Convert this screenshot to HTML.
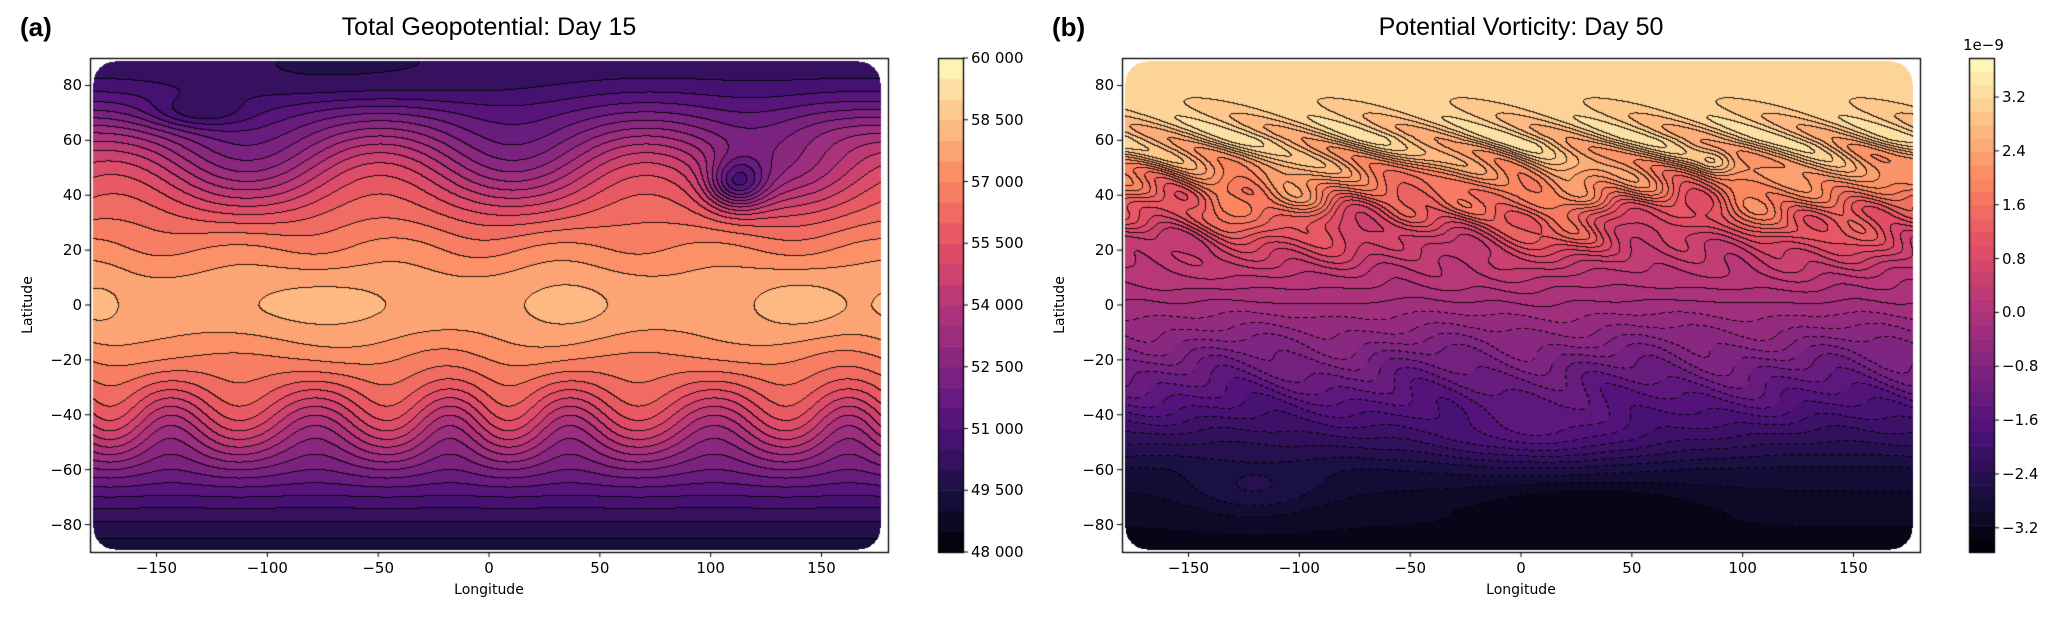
<!DOCTYPE html>
<html><head><meta charset="utf-8">
<style>
body{margin:0;background:#fff;width:2067px;height:626px;position:relative;overflow:hidden;font-family:"DejaVu Sans","Liberation Sans",sans-serif;color:#000}
.t{position:absolute;white-space:nowrap}
.tick{font-size:15px}
#cvMain{position:absolute;left:0;top:0}
</style></head><body>
<canvas id="cvMain" width="2067" height="626"></canvas>
<div id="labelLayer"></div>
<script>
var lonTickValues=[-150,-100,-50,0,50,100,150];
var latTickValues=[-80,-60,-40,-20,0,20,40,60,80];
var geoCbTicks=[48000,49500,51000,52500,54000,55500,57000,58500,60000];
var geoCbLabels=["48 000","49 500","51 000","52 500","54 000","55 500","57 000","58 500","60 000"];
var pvCbTicks=[-3.2,-2.4,-1.6,-0.8,0.0,0.8,1.6,2.4,3.2];
var pvCbLabels=["−3.2","−2.4","−1.6","−0.8","0.0","0.8","1.6","2.4","3.2"];
var geoRange=[48000,60000], geoStep=500;
var pvRange=[-3.56,3.78], pvStep=0.2;
var pvProfileLat=[-90,-75,-60,-45,-30,-15,0,15,30,45,60,75,90];
var pvProfileVal=[-3.25,-3.1,-2.8,-2.1,-1.4,-0.8,-0.2,0.4,1.1,2.0,2.9,3.1,3.2];
var geoBlobLon=[-175,-75,35,140];
var geoBlobAmp=[400,500,500,550];
(function(){
var axA={x0:90,x1:888,y0:58,y1:552};
var axB={x0:1122,x1:1920,y0:58,y1:552};
var cbA={x0:938,x1:963,y0:58,y1:552};
var cbB={x0:1969,x1:1994,y0:58,y1:552};
var mag=[[0,0,4],[28,16,68],[79,18,123],[129,37,129],[181,54,122],[229,80,100],[251,135,97],[254,194,135],[252,253,191]];
function cmap(t){t=Math.max(0,Math.min(1,t));var s=t*8,i=Math.min(7,Math.floor(s)),f=s-i;var a=mag[i],b=mag[i+1];return [a[0]+(b[0]-a[0])*f,a[1]+(b[1]-a[1])*f,a[2]+(b[2]-a[2])*f];}
var DG=Math.PI/180;
function sq(v){return v*v;}
function g2(x,y,cx,cy,sx,sy){var dx=x-cx;if(dx>180)dx-=360;if(dx<-180)dx+=360;return Math.exp(-sq(dx/sx)-sq((y-cy)/sy));}
function geo(lon,lat){
 var d=10*Math.sin(3*lon*DG+1)*Math.exp(-sq((lat-50)/20))
  +7*Math.sin(6*lon*DG+0.5+0.4*Math.sin(2*lon*DG))*Math.exp(-sq((lat+42)/16))
  +3*Math.sin(4*lon*DG)*Math.exp(-sq((lat+15)/10))
  +3*Math.sin(5*lon*DG+2)*Math.exp(-sq((lat-18)/10));
 var p=lat+d;var c=Math.cos(Math.min(90,Math.abs(p))*DG);
 var pole=p>0?50100:49300;
 var v=pole+(57700-pole)*Math.pow(Math.max(c,0),1.5);
 var eq=Math.exp(-sq(lat/13));
 for(var i=0;i<geoBlobLon.length;i++){var w=(i==1?40:(i==0?14:26));v+=geoBlobAmp[i]*eq*g2(lon,0,geoBlobLon[i],0,w,1);}
 v-=3200*g2(lon,lat,112,44,13,9);
 v-=1300*g2(lon,lat,-132,70,22,6);
 v-=500*g2(lon,lat,-60,80,70,8);
 v+=900*g2(lon,lat,150,62,30,12);
 return v;}
function prof(lat){for(var i=0;i<pvProfileLat.length-1;i++){if(lat<=pvProfileLat[i+1]){var f=(lat-pvProfileLat[i])/(pvProfileLat[i+1]-pvProfileLat[i]);return pvProfileVal[i]+f*(pvProfileVal[i+1]-pvProfileVal[i]);}}return pvProfileVal[pvProfileVal.length-1];}
function pv(lon,lat){
 var nE=Math.exp(-sq((lat-32)/18));
 var d=(8*Math.sin(3*lon*DG+0.8*Math.sin(lat*0.25)+1)+6*Math.sin(7*lon*DG+2*Math.sin(lat*0.12+lon*DG*2))+4*Math.sin(11*lon*DG+lat*0.35))*nE
  +(4*Math.sin(4*lon*DG+1+0.5*Math.sin(lat*0.2))+3*Math.sin(9*lon*DG+lat*0.25))*Math.exp(-sq((lat+25)/18));
 var p=Math.max(-90,Math.min(90,lat+d));
 var v=prof(p);
 v+=0.5*Math.sin(6*lon*DG+lat*0.35)*Math.exp(-sq((lat-58)/12));
 v+=0.6*g2(lon,lat,10,-48,55,12);
 v+=0.4*g2(lon,lat,-120,-68,30,10);
 v-=0.3*g2(lon,lat,30,-72,50,8);
 v+=0.5*g2(lon,lat,88,52,8,5);
 return v;}
var cv=document.getElementById('cvMain'),ctx=cv.getContext('2d');
function inRR(px,py,ax){var r=22,x0=ax.x0+3,x1=ax.x1-8,y0=ax.y0+3,y1=ax.y1-3;
 if(px<x0||px>x1||py<y0||py>y1)return false;
 var cx=Math.max(x0+r,Math.min(x1-r,px)),cy=Math.max(y0+r,Math.min(y1-r,py));
 return sq(px-cx)+sq(py-cy)<=r*r;}
function field(ax,fn,range,step,dashNeg){
 var w=ax.x1-ax.x0,h=ax.y1-ax.y0;var img=ctx.createImageData(w,h);
 var band=new Int16Array(w*h),i,j;
 for(j=0;j<h;j++)for(i=0;i<w;i++){var lon=-180+360*(i+0.5)/w,lat=90-180*(j+0.5)/h;
  band[j*w+i]=Math.floor((fn(lon,lat)-range[0])/step);}
 var zeroBand=Math.floor((0-range[0])/step);
 for(j=0;j<h;j++)for(i=0;i<w;i++){var k=j*w+i,o=k*4;
  if(!inRR(ax.x0+i,ax.y0+j,ax)){img.data[o]=255;img.data[o+1]=255;img.data[o+2]=255;img.data[o+3]=255;continue;}
  var b=band[k];var edge=(i<w-1&&band[k+1]!=b)||(j<h-1&&band[k+w]!=b);
  if(edge&&dashNeg&&b<zeroBand&&((i+j)%8)>4)edge=false;
  var c=cmap(((b+0.5)*step)/(range[1]-range[0]));
  if(edge){c=[c[0]*0.15,c[1]*0.15,c[2]*0.15];}
  img.data[o]=c[0];img.data[o+1]=c[1];img.data[o+2]=c[2];img.data[o+3]=255;}
 ctx.putImageData(img,ax.x0,ax.y0);
 ctx.strokeStyle='#000';ctx.lineWidth=1.3;ctx.strokeRect(ax.x0+0.5,ax.y0+0.5,w,h);}
function cbar(cb,range,step){var n=Math.round((range[1]-range[0])/step),h=cb.y1-cb.y0;
 for(var k=0;k<n;k++){var c=cmap((k+0.5)/n);ctx.fillStyle='rgb('+(c[0]|0)+','+(c[1]|0)+','+(c[2]|0)+')';
  var ya=cb.y1-h*k/n,yb=cb.y1-h*(k+1)/n;ctx.fillRect(cb.x0,yb,cb.x1-cb.x0,ya-yb+0.5);}
 ctx.strokeStyle='#000';ctx.lineWidth=1.3;ctx.strokeRect(cb.x0+0.5,cb.y0+0.5,cb.x1-cb.x0,h);}
try{field(axA,geo,geoRange,geoStep,false);}catch(e){}
try{field(axB,pv,pvRange,pvStep,true);}catch(e){}
cbar(cbA,geoRange,geoStep);cbar(cbB,pvRange,pvStep);
var layer=document.getElementById('labelLayer');
function txt(s,x,y,cls,name,extra){var d=document.createElement('div');d.className='t '+(cls||'');d.textContent=s;d.style.left=x+'px';d.style.top=y+'px';if(extra){d.style.cssText+=';'+extra;}
 
 
 layer.appendChild(d);return d;}
function axes(ax,pre){ctx.strokeStyle='#000';ctx.lineWidth=1;
 lonTickValues.forEach(function(v){var x=ax.x0+(v+180)/360*(ax.x1-ax.x0);ctx.beginPath();ctx.moveTo(x,ax.y1);ctx.lineTo(x,ax.y1+5);ctx.stroke();
  txt(v<0?'−'+(-v):''+v,x,ax.y1+7,'tick',pre+'x-tick','transform:translateX(-50%)');});
 latTickValues.forEach(function(v){var y=ax.y0+(90-v)/180*(ax.y1-ax.y0);ctx.beginPath();ctx.moveTo(ax.x0,y);ctx.lineTo(ax.x0-5,y);ctx.stroke();
  txt(v<0?'−'+(-v):''+v,ax.x0-8,y,'tick',pre+'y-tick','transform:translate(-100%,-50%)');});
 txt('Longitude',(ax.x0+ax.x1)/2,ax.y1+30,'',pre+'x-axis-title','transform:translateX(-50%);font-size:14px');
 txt('Latitude',ax.x0-62,(ax.y0+ax.y1)/2,'',pre+'y-axis-title','transform:translate(-50%,-50%) rotate(-90deg);font-size:14px');}
axes(axA,'a-');axes(axB,'b-');
function cbticks(cb,range,ticks,labels,pre){ticks.forEach(function(v,i){var y=cb.y1-(v-range[0])/(range[1]-range[0])*(cb.y1-cb.y0);
 ctx.beginPath();ctx.moveTo(cb.x1,y);ctx.lineTo(cb.x1+5,y);ctx.stroke();
 txt(labels[i],cb.x1+8,y,'tick',pre+'colorbar-tick','transform:translateY(-50%)');});}
cbticks(cbA,geoRange,geoCbTicks,geoCbLabels,'a-');cbticks(cbB,pvRange,pvCbTicks,pvCbLabels,'b-');
txt('1e−9',1963,36,'tick','b-colorbar-exponent','font-size:15px');
txt('Total Geopotential: Day 15',489,13,'','a-title','transform:translateX(-50%);font-size:25px;font-family:"Liberation Sans",sans-serif');
txt('Potential Vorticity: Day 50',1521,13,'','b-title','transform:translateX(-50%);font-size:25px;font-family:"Liberation Sans",sans-serif');
txt('(a)',20,12,'','panel-label-a','font-size:26px;font-weight:bold;font-family:"Liberation Sans",sans-serif');
txt('(b)',1052,12,'','panel-label-b','font-size:26px;font-weight:bold;font-family:"Liberation Sans",sans-serif');
})();
</script>
</body></html>
